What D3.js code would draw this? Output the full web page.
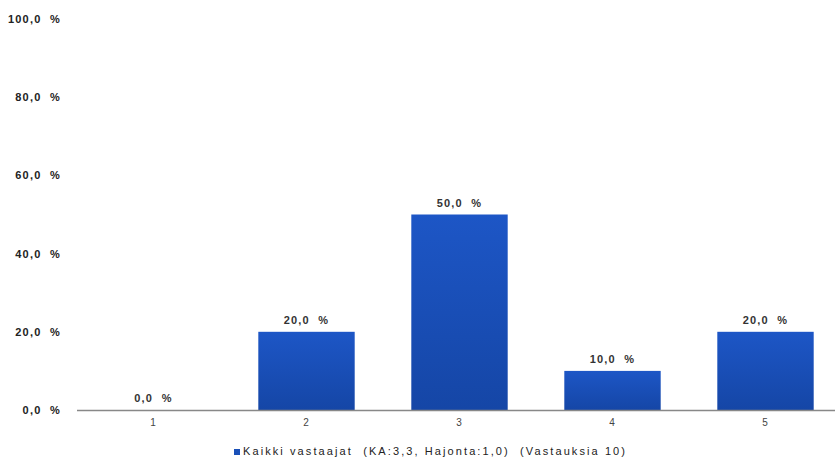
<!DOCTYPE html>
<meta charset="utf-8">
<style>
 body { margin: 0; background: white; }
 svg { display: block; font-family: 'Liberation Sans', Arial, sans-serif; }
 .tick text { font-size: 11px; font-weight: bold; fill: #222; letter-spacing: 1.2px; white-space: pre; }
 .lbl { font-size: 11px; font-weight: bold; fill: #333; letter-spacing: 1.2px; white-space: pre; }
</style>
<svg width="835" height="463"></svg>
<script src="https://d3js.org/d3.v7.min.js"></script>
<script>
 var categories = ['1', '2', '3', '4', '5'];
 var values = [0, 20, 50, 10, 20];
 var yTicks = [0, 20, 40, 60, 80, 100];
 var legendText = 'Kaikki vastaajat  (KA:3,3, Hajonta:1,0)  (Vastauksia 10)';

 var svg = d3.select('svg');
 var fmt = function(v) { return v.toFixed(1).replace('.', ',') + '  %'; };

 var x = d3.scaleBand().domain(categories).range([77, 842]).paddingInner(0.37).paddingOuter(0.185);
 var y = d3.scaleLinear().domain([0, 100]).range([410, 19]);

 var defs = svg.append('defs');
 var grad = defs.append('linearGradient').attr('id', 'barg').attr('x1', 0).attr('y1', 0).attr('x2', 0).attr('y2', 1);
 grad.append('stop').attr('offset', '0%').attr('stop-color', '#1d56c6');
 grad.append('stop').attr('offset', '100%').attr('stop-color', '#1546a6');

 // y axis labels
 svg.append('g')
     .attr('transform', 'translate(64,0)')
     .call(d3.axisLeft(y).tickValues(yTicks).tickSize(0).tickFormat(fmt))
     .call(function(g) { g.select('.domain').remove(); });

 // bars
 svg.selectAll('rect.bar')
     .data(values)
     .enter().append('rect')
     .attr('class', 'bar')
     .attr('x', function(d, i) { return x(categories[i]); })
     .attr('y', function(d) { return y(d); })
     .attr('width', x.bandwidth())
     .attr('height', function(d) { return y(0) - y(d); })
     .attr('fill', 'url(#barg)');

 // value labels
 svg.selectAll('text.lbl')
     .data(values)
     .enter().append('text')
     .attr('class', 'lbl')
     .attr('x', function(d, i) { return x(categories[i]) + x.bandwidth() / 2; })
     .attr('y', function(d) { return y(d) - 8; })
     .attr('text-anchor', 'middle')
     .text(fmt);

 // x axis
 svg.append('g')
     .attr('transform', 'translate(0,410)')
     .call(d3.axisBottom(x).tickSize(0).tickPadding(9))
     .call(function(g) {
         g.select('.domain').remove();
         g.selectAll('.tick text').style('font-weight', 'normal').style('fill', '#444').style('font-size', '10px');
     });
 svg.append('line')
     .attr('x1', 77).attr('x2', 835).attr('y1', 410.5).attr('y2', 410.5)
     .attr('stroke', '#888').attr('stroke-width', 1.5);

 // legend
 var lg = svg.append('g').attr('transform', 'translate(234,455)');
 lg.append('rect').attr('x', 0).attr('y', -6).attr('width', 6).attr('height', 6).attr('fill', '#1a50b8');
 lg.append('text').attr('x', 9).attr('y', 0).attr('font-size', '11px').attr('fill', '#222')
     .style('white-space', 'pre')
     .attr('textLength', 382).attr('lengthAdjust', 'spacing').text(legendText);
</script>
